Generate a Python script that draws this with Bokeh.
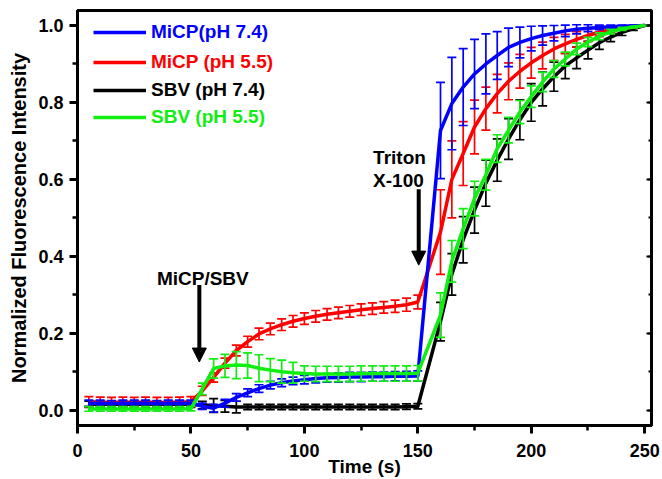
import numpy as np
from bokeh.plotting import figure
from bokeh.models import (ColumnDataSource, Range1d, LinearAxis, Label, Arrow, NormalHead,
                          Legend, LegendItem, SingleIntervalTicker, PrintfTickFormatter)
from bokeh.embed import file_html
from bokeh.resources import INLINE

# ---------------- data ----------------
time_s = [5, 10, 15, 20, 25, 30, 35, 40, 45, 50,
          55, 60, 65, 70, 75, 80, 85, 90, 95, 100,
          105, 110, 115, 120, 125, 130, 135, 140, 145, 150,
          160, 165, 170, 175, 180, 185, 190, 195, 200, 205,
          210, 215, 220, 225, 230, 235, 240, 245, 250]

micp_74 = [0.018, 0.018, 0.017, 0.018, 0.018, 0.018, 0.017, 0.018, 0.018, 0.018,
           0.010, 0.005, 0.018, 0.033, 0.045, 0.056, 0.065, 0.071, 0.076, 0.079,
           0.082, 0.084, 0.085, 0.086, 0.086, 0.087, 0.087, 0.088, 0.088, 0.089,
           0.727, 0.797, 0.840, 0.874, 0.900, 0.922, 0.943, 0.956, 0.966, 0.974,
           0.980, 0.986, 0.990, 0.993, 0.995, 0.997, 0.998, 0.999, 1.000]
micp_74_err = [0.008, 0.008, 0.008, 0.008, 0.008, 0.008, 0.008, 0.008, 0.008, 0.008,
               0.008, 0.010, 0.010, 0.010, 0.010, 0.010, 0.010, 0.010, 0.010, 0.011,
               0.011, 0.011, 0.012, 0.012, 0.012, 0.012, 0.012, 0.012, 0.013, 0.013,
               0.125, 0.120, 0.100, 0.090, 0.078, 0.062, 0.050, 0.040, 0.032, 0.025,
               0.020, 0.015, 0.012, 0.009, 0.006, 0.004, 0.003, 0.002, 0.000]

micp_55 = [0.022, 0.021, 0.020, 0.021, 0.020, 0.021, 0.020, 0.020, 0.021, 0.022,
           0.050, 0.085, 0.122, 0.155, 0.178, 0.198, 0.211, 0.222, 0.231, 0.238,
           0.244, 0.249, 0.253, 0.257, 0.261, 0.264, 0.267, 0.270, 0.274, 0.281,
           0.463, 0.600, 0.667, 0.736, 0.784, 0.823, 0.855, 0.881, 0.903, 0.922,
           0.939, 0.952, 0.964, 0.974, 0.983, 0.989, 0.993, 0.997, 1.000]
micp_55_err = [0.013, 0.013, 0.013, 0.013, 0.013, 0.013, 0.013, 0.013, 0.013, 0.013,
               0.012, 0.012, 0.013, 0.014, 0.014, 0.015, 0.015, 0.015, 0.015, 0.015,
               0.015, 0.015, 0.015, 0.015, 0.015, 0.015, 0.015, 0.016, 0.017, 0.018,
               0.110, 0.100, 0.083, 0.070, 0.056, 0.050, 0.048, 0.044, 0.040, 0.035,
               0.030, 0.025, 0.020, 0.016, 0.012, 0.008, 0.005, 0.003, 0.000]

sbv_74 = [0.015, 0.015, 0.015, 0.015, 0.015, 0.015, 0.015, 0.015, 0.015, 0.015,
          0.013, 0.012, 0.010, 0.008, 0.008, 0.008, 0.008, 0.008, 0.008, 0.008,
          0.008, 0.008, 0.008, 0.008, 0.008, 0.008, 0.008, 0.008, 0.009, 0.010,
          0.230, 0.353, 0.443, 0.520, 0.590, 0.650, 0.705, 0.755, 0.800, 0.835,
          0.867, 0.895, 0.916, 0.936, 0.955, 0.970, 0.982, 0.992, 1.000]
sbv_74_err = [0.008, 0.008, 0.008, 0.008, 0.008, 0.008, 0.008, 0.008, 0.008, 0.008,
              0.010, 0.018, 0.015, 0.015, 0.007, 0.007, 0.007, 0.007, 0.007, 0.007,
              0.007, 0.007, 0.007, 0.007, 0.007, 0.007, 0.007, 0.007, 0.007, 0.007,
              0.050, 0.054, 0.060, 0.060, 0.060, 0.055, 0.053, 0.052, 0.049, 0.044,
              0.038, 0.033, 0.028, 0.023, 0.017, 0.012, 0.008, 0.005, 0.000]

sbv_55 = [0.003, 0.003, 0.003, 0.003, 0.003, 0.003, 0.003, 0.003, 0.003, 0.004,
          0.055, 0.108, 0.115, 0.117, 0.116, 0.109, 0.104, 0.100, 0.097, 0.095,
          0.094, 0.094, 0.094, 0.094, 0.095, 0.095, 0.095, 0.095, 0.095, 0.096,
          0.247, 0.387, 0.472, 0.550, 0.612, 0.680, 0.728, 0.775, 0.815, 0.853,
          0.887, 0.913, 0.939, 0.957, 0.972, 0.984, 0.991, 0.996, 1.000]
sbv_55_err = [0.006, 0.006, 0.006, 0.006, 0.006, 0.006, 0.006, 0.006, 0.006, 0.006,
              0.015, 0.025, 0.030, 0.035, 0.033, 0.035, 0.030, 0.030, 0.027, 0.020,
              0.020, 0.020, 0.020, 0.020, 0.020, 0.020, 0.020, 0.020, 0.020, 0.020,
              0.058, 0.054, 0.052, 0.045, 0.040, 0.036, 0.033, 0.030, 0.028, 0.025,
              0.022, 0.018, 0.015, 0.012, 0.009, 0.006, 0.004, 0.002, 0.000]

series_labels = ["MiCP(pH 7.4)", "MiCP (pH 5.5)", "SBV (pH 7.4)", "SBV (pH 5.5)"]
series_colors = ["#0000ff", "#ff0000", "#000000", "#11ee11"]
series_values = [micp_74, micp_55, sbv_74, sbv_55]
series_errors = [micp_74_err, micp_55_err, sbv_74_err, sbv_55_err]

x_ticks_interval = 50
y_ticks_interval = 0.2

FONT = "Liberation Sans"

# ---------------- figure ----------------
p = figure(width=660, height=479,
           x_range=Range1d(0, 253), y_range=Range1d(-0.04, 1.039),
           output_backend="svg", toolbar_location=None,
           min_border_left=77, min_border_right=9, min_border_top=10, min_border_bottom=54)
p.grid.visible = False
p.outline_line_color = "black"
p.outline_line_width = 3
p.outline_line_alpha = 1.0
p.background_fill_color = "white"
p.border_fill_color = "white"

p.xaxis.ticker = SingleIntervalTicker(interval=x_ticks_interval, num_minor_ticks=2)
p.yaxis.ticker = SingleIntervalTicker(interval=y_ticks_interval, num_minor_ticks=2)
p.yaxis.formatter = PrintfTickFormatter(format="%.1f")

for ax in (p.xaxis, p.yaxis):
    ax.axis_line_width = 3
    ax.axis_line_color = "black"
    ax.major_tick_line_width = 3
    ax.minor_tick_line_width = 2.5
    ax.major_tick_out = 8
    ax.major_tick_in = 0
    ax.minor_tick_out = 5
    ax.minor_tick_in = 0
    ax.major_label_text_font = FONT
    ax.major_label_text_font_style = "bold"
    ax.major_label_text_font_size = "18px"
    ax.major_label_text_color = "black"
    ax.axis_label_text_font = FONT
    ax.axis_label_text_font_style = "bold"
    ax.axis_label_text_color = "black"
p.xaxis.major_label_standoff = 10
p.yaxis.major_label_standoff = 6

p.xaxis.axis_label = "Time (s)"
p.xaxis.axis_label_text_font_size = "19px"
p.xaxis.axis_label_standoff = -4

p.yaxis.axis_label = "Normalized Fluorescence Intensity"
p.yaxis.axis_label_text_font_size = "20px"
p.yaxis.axis_label_standoff = 5

right_axis = LinearAxis(ticker=SingleIntervalTicker(interval=y_ticks_interval, num_minor_ticks=2),
                        major_label_text_font_size="1px", major_label_text_color=None,
                        major_label_standoff=0,
                        major_tick_in=5, major_tick_out=0, minor_tick_in=3, minor_tick_out=0,
                        major_tick_line_width=2, minor_tick_line_width=2,
                        axis_line_alpha=0)
p.add_layout(right_axis, "right")

# ---------------- series ----------------
renderers = {}
order = [2, 1, 0, 3]
for i in order:
    y = np.array(series_values[i])
    e = np.array(series_errors[i])
    src = ColumnDataSource(dict(t=time_s, y=y, lo=y - e, hi=y + e))
    c = series_colors[i]
    p.segment(x0="t", y0="lo", x1="t", y1="hi", source=src, line_color=c, line_width=1.7)
    p.scatter(x="t", y="lo", source=src, marker="dash", size=9, line_color=c, line_width=1.7)
    p.scatter(x="t", y="hi", source=src, marker="dash", size=9, line_color=c, line_width=1.7)
    r = p.line(x="t", y="y", source=src, line_color=c, line_width=3.5, line_join="round")
    renderers[i] = r

# ---------------- legend (one per entry for coloured text) ----------------
legend_bottoms = [382, 352, 324, 297]
for i in range(4):
    lg = Legend(items=[LegendItem(label=series_labels[i], renderers=[renderers[i]])],
                location=(16, legend_bottoms[i]),
                padding=0, margin=0, spacing=0,
                border_line_alpha=0, background_fill_alpha=0,
                glyph_width=53, glyph_height=22, label_height=22, label_standoff=5,
                label_text_font=FONT, label_text_font_style="bold",
                label_text_font_size="19px", label_text_color=series_colors[i])
    p.add_layout(lg)

# ---------------- annotations ----------------
txt = dict(text_font=FONT, text_font_style="bold", text_font_size="19px", text_color="black")
p.add_layout(Label(x=35, y=0.343, text="MiCP/SBV", text_baseline="alphabetic", **txt))
p.add_layout(Label(x=130.3, y=0.658, text="Triton", text_baseline="alphabetic", **txt))
p.add_layout(Label(x=130.3, y=0.597, text="X-100", text_baseline="alphabetic", **txt))

head1 = NormalHead(size=14, fill_color="black", line_color="black")
p.add_layout(Arrow(end=head1, x_start=53.7, y_start=0.325, x_end=53.7, y_end=0.125,
                   line_width=4, line_color="black"))
head2 = NormalHead(size=14, fill_color="black", line_color="black")
p.add_layout(Arrow(end=head2, x_start=150.4, y_start=0.574, x_end=150.4, y_end=0.377,
                   line_width=4, line_color="black"))

open("out.html", "w").write(file_html(p, INLINE))
